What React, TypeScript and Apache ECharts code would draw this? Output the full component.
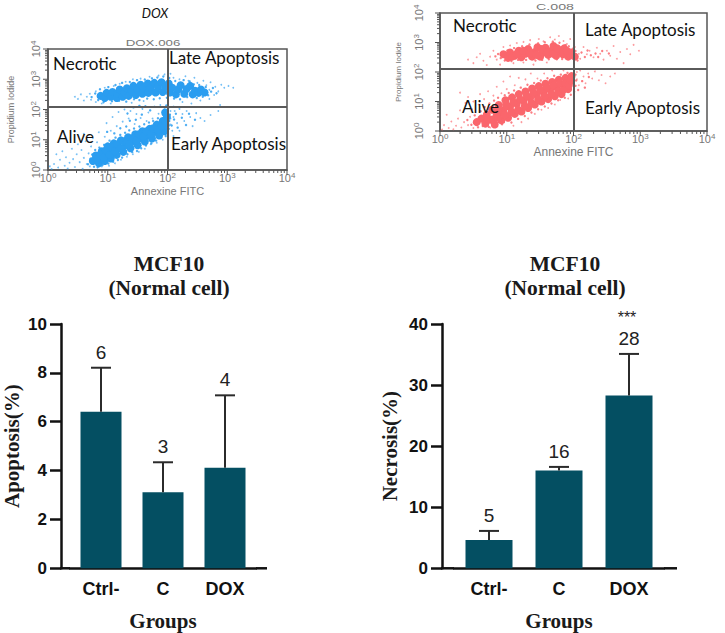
import React, { useEffect, useRef } from "react";
import * as echarts from "echarts";

const groups = ["Ctrl-", "C", "DOX"];
const apoptosisValues = [6.41, 3.11, 4.12];
const apoptosisUpper = [8.21, 4.34, 7.08];
const apoptosisLabels = ["6", "3", "4"];
const necrosisValues = [4.64, 16.0, 28.3];
const necrosisUpper = [6.12, 16.6, 35.1];
const necrosisLabels = ["5", "16", "28"];
const doxUpperCore = [[0.88,2.45],[0.95,2.38],[0.98,2.55],[1.05,2.42],[1.08,2.58],[1.15,2.38],[1.16,2.52],[1.2,2.66],[1.25,2.42],[1.28,2.56],[1.32,2.7],[1.35,2.45],[1.4,2.6],[1.43,2.78],[1.47,2.48],[1.5,2.66],[1.55,2.82],[1.58,2.52],[1.6,2.7],[1.67,2.86],[1.68,2.55],[1.72,2.72],[1.78,2.88],[1.8,2.56],[1.84,2.74],[1.9,2.9],[1.92,2.58],[1.96,2.74],[2.02,2.86],[2.04,2.56],[2.08,2.72],[2.14,2.5],[2.18,2.66],[2.22,2.8],[2.28,2.52],[2.32,2.68],[2.38,2.78],[2.42,2.5],[2.46,2.62],[2.52,2.55],[2.56,2.66],[2.62,2.56]];
const doxLowerCore = [[0.75,0.3],[0.8,0.48],[0.85,0.22],[0.88,0.38],[0.9,0.62],[0.95,0.3],[0.98,0.5],[1.0,0.78],[1.05,0.38],[1.08,0.6],[1.1,0.88],[1.15,0.5],[1.18,0.72],[1.22,0.98],[1.26,0.6],[1.3,0.82],[1.34,1.08],[1.38,0.72],[1.42,0.94],[1.46,1.18],[1.5,0.82],[1.54,1.04],[1.58,1.28],[1.62,0.94],[1.66,1.14],[1.7,1.36],[1.74,1.04],[1.78,1.26],[1.82,1.5],[1.86,1.14],[1.88,1.36],[1.92,1.62],[1.95,1.28],[1.97,1.48],[1.99,1.75],[1.96,1.9],[0.82,0.35],[0.88,0.5],[0.93,0.42],[0.97,0.65],[1.03,0.5],[1.06,0.75],[1.12,0.62],[1.16,0.85],[1.22,0.72],[1.26,0.95],[1.32,0.92],[1.36,0.85],[1.42,1.06],[1.48,0.98],[1.52,1.18],[1.6,1.12],[1.65,1.28],[1.72,1.2],[1.76,1.38],[1.84,1.32],[1.9,1.45],[1.96,1.62]];
const doxSparse = [[0.03,0.12],[0.06,0.03],[0.1,0.2],[0.14,0.52],[0.17,0.08],[0.2,0.34],[0.24,0.62],[0.28,0.14],[0.3,0.42],[0.33,0.05],[0.36,0.24],[0.4,0.7],[0.42,0.36],[0.45,0.1],[0.48,0.52],[0.5,0.85],[0.53,0.26],[0.56,0.66],[0.58,0.04],[0.6,0.4],[0.63,0.95],[0.65,0.2],[0.68,0.55],[0.7,0.12],[0.72,0.78],[0.6,1.2],[0.75,1.05],[0.82,0.92],[0.85,1.25],[0.9,0.12],[0.95,1.1],[0.98,1.55],[1.02,0.14],[1.05,1.3],[1.08,1.75],[1.12,0.22],[1.15,1.45],[1.18,1.92],[1.22,0.34],[1.25,1.6],[1.28,2.0],[1.32,0.44],[1.35,1.7],[1.38,1.95],[1.42,0.52],[1.45,1.52],[1.48,1.85],[1.52,0.6],[1.55,1.72],[1.58,2.02],[1.62,0.7],[1.65,1.62],[1.68,1.9],[1.72,0.85],[1.75,1.7],[1.78,2.1],[1.82,0.9],[1.85,1.86],[1.88,2.15],[1.92,1.0],[1.95,2.05],[0.45,2.42],[0.5,2.35],[0.55,2.5],[0.6,2.3],[0.65,2.42],[0.7,2.52],[0.72,2.32],[0.8,2.25],[0.8,2.6],[0.9,2.2],[0.95,2.72],[1.05,2.2],[1.1,2.78],[1.2,2.85],[1.3,2.92],[1.4,2.22],[1.42,3.0],[1.55,3.02],[1.6,2.28],[1.7,3.08],[1.85,3.12],[1.95,3.16],[2.05,3.18],[2.1,3.05],[2.2,3.0],[2.3,3.1],[2.35,2.95],[2.45,3.05],[2.5,2.88],[2.6,2.95],[2.65,2.8],[2.7,2.65],[2.72,2.9],[2.78,2.48],[2.8,2.75],[2.85,2.6],[2.9,2.82],[2.95,2.72],[3.02,2.78],[3.1,2.72],[2.7,2.35],[2.55,2.3],[2.4,2.2],[2.25,2.25],[2.1,2.1],[2.05,1.95],[2.05,1.7],[2.05,1.5],[2.08,1.3],[2.1,1.75],[2.12,1.95],[2.16,1.55],[2.2,2.02],[2.25,1.85],[2.28,1.62],[2.32,1.95],[2.38,1.75],[2.42,1.45],[2.48,1.88],[2.55,1.72],[2.62,1.62],[2.72,1.82],[2.85,1.95],[2.88,2.15],[2.1,1.12],[2.2,1.3]];
const doxHalo = [[0.73,2.41],[0.79,2.53],[0.84,2.31],[0.87,2.67],[0.93,2.24],[1.01,2.74],[1.07,2.27],[1.13,2.81],[1.19,2.29],[1.24,2.88],[1.31,2.26],[1.37,2.91],[1.44,2.34],[1.49,2.97],[1.53,2.31],[1.62,2.99],[1.66,2.36],[1.74,3.03],[1.77,2.34],[1.83,3.06],[1.87,2.37],[1.93,3.09],[1.99,2.39],[2.03,3.04],[2.11,2.36],[2.13,2.94],[2.21,2.34],[2.27,2.97],[2.33,2.41],[2.37,2.93],[2.44,2.83],[2.49,2.38],[2.53,2.81],[2.59,2.42],[2.64,2.74],[2.68,2.47],[2.73,2.59],[2.76,2.71],[2.82,2.54],[0.67,0.19],[0.71,0.37],[0.74,0.51],[0.77,0.11],[0.79,0.66],[0.83,0.09],[0.86,0.74],[0.91,0.16],[0.94,0.83],[1.01,0.21],[1.03,0.97],[1.09,0.27],[1.13,1.07],[1.17,0.33],[1.21,1.16],[1.24,0.41],[1.29,1.23],[1.33,0.52],[1.36,1.31],[1.41,0.59],[1.44,1.37],[1.49,0.63],[1.53,1.44],[1.56,0.72],[1.61,1.51],[1.64,0.81],[1.69,1.57],[1.73,0.88],[1.76,1.62],[1.81,0.97],[1.84,1.71],[1.89,1.06],[1.93,1.82],[1.97,1.12],[2.02,1.36],[2.03,1.62],[2.04,1.83],[2.01,2.03],[1.98,2.13],[2.07,1.47],[2.11,1.67],[2.14,1.86],[2.17,1.4],[2.24,1.73],[2.31,1.49],[2.36,1.86],[2.46,1.66],[1.31,1.44],[1.21,1.38],[1.11,1.21],[0.99,1.26],[1.37,1.63],[1.47,1.66],[1.57,1.83],[1.63,2.11],[1.71,1.97],[1.53,2.12],[1.43,2.07],[1.33,1.87]];
const cUpperCore = [[0.95,2.6],[1.02,2.48],[1.05,2.66],[1.12,2.55],[1.18,2.72],[1.22,2.5],[1.28,2.62],[1.32,2.78],[1.38,2.52],[1.42,2.68],[1.46,2.84],[1.5,2.52],[1.54,2.68],[1.58,2.82],[1.62,2.58],[1.67,2.72],[1.7,2.88],[1.74,2.55],[1.78,2.72],[1.84,2.6],[1.86,2.8],[1.92,2.52],[1.96,2.66],[2.02,2.52],[1.08,2.52],[1.15,2.62],[1.25,2.72],[1.35,2.62],[1.45,2.58],[1.52,2.78],[1.6,2.65],[1.7,2.62],[1.76,2.8],[1.85,2.68],[1.95,2.58],[1.9,2.72]];
const cLowerCore = [[0.55,0.3],[0.62,0.42],[0.68,0.25],[0.7,0.55],[0.76,0.38],[0.78,0.72],[0.82,0.22],[0.85,0.55],[0.88,0.88],[0.92,0.36],[0.95,0.7],[0.98,1.04],[1.02,0.45],[1.05,0.82],[1.08,1.14],[1.12,0.58],[1.15,0.92],[1.18,1.25],[1.22,0.66],[1.25,1.02],[1.28,1.34],[1.32,0.78],[1.35,1.12],[1.38,1.44],[1.42,0.9],[1.45,1.22],[1.48,1.52],[1.52,1.0],[1.55,1.32],[1.58,1.6],[1.62,1.08],[1.65,1.4],[1.68,1.66],[1.72,1.18],[1.75,1.48],[1.78,1.74],[1.82,1.25],[1.85,1.56],[1.88,1.8],[1.92,1.42],[1.94,1.66],[1.97,1.86],[0.72,0.4],[0.8,0.4],[0.87,0.45],[0.9,0.65],[0.97,0.55],[1.0,0.85],[1.07,0.65],[1.1,0.98],[1.17,0.72],[1.2,1.08],[1.27,0.85],[1.3,1.2],[1.37,0.95],[1.4,1.3],[1.47,1.08],[1.5,1.4],[1.57,1.18],[1.6,1.48],[1.67,1.25],[1.7,1.55],[1.77,1.35],[1.8,1.62],[1.85,1.4],[1.88,1.62],[1.93,1.55],[1.96,1.72],[0.99,0.9],[0.87,0.72]];
const cSparse = [[0.03,0.05],[0.06,0.2],[0.1,0.55],[0.13,0.1],[0.17,0.32],[0.2,0.06],[0.24,0.18],[0.27,0.42],[0.3,0.7],[0.32,0.12],[0.36,0.3],[0.38,0.95],[0.42,0.2],[0.45,0.48],[0.48,0.74],[0.5,0.1],[0.3,1.3],[0.42,1.15],[0.5,1.0],[0.58,0.9],[0.6,1.25],[0.66,1.08],[0.72,1.35],[0.75,0.12],[0.8,1.2],[0.85,1.5],[0.92,1.28],[0.95,1.68],[1.0,1.42],[1.05,1.85],[1.1,0.18],[1.12,1.55],[1.18,1.8],[1.22,0.3],[1.28,1.75],[1.32,0.42],[1.36,1.95],[1.42,0.58],[1.46,1.78],[1.52,0.72],[1.56,1.95],[1.62,0.78],[1.68,2.05],[1.72,0.9],[1.8,1.05],[1.85,2.05],[1.92,1.1],[0.42,2.42],[0.5,2.3],[0.55,2.5],[0.6,2.62],[0.65,2.38],[0.7,2.24],[0.75,2.52],[0.8,2.72],[0.85,2.42],[0.9,2.25],[0.95,2.85],[1.05,2.9],[1.1,2.3],[1.15,2.98],[1.25,2.32],[1.25,3.02],[1.35,3.08],[1.4,2.25],[1.48,3.12],[1.55,3.04],[1.6,2.32],[1.65,3.18],[1.72,3.1],[1.78,3.22],[1.85,3.05],[1.9,2.95],[1.95,3.12],[2.02,2.85],[2.08,2.62],[2.1,2.45],[2.15,2.85],[2.2,2.6],[2.24,2.72],[2.3,2.5],[2.35,2.82],[2.4,2.62],[2.45,2.42],[2.5,2.72],[2.55,2.55],[2.6,2.88],[2.65,2.45],[2.7,2.68],[2.75,2.3],[2.8,2.78],[2.85,2.6],[2.9,2.92],[2.98,2.72],[2.05,2.0],[2.05,1.75],[2.08,1.55],[2.1,2.05],[2.15,1.85],[2.18,1.62],[2.22,1.95],[2.28,1.78],[2.32,2.02],[2.38,1.72],[2.42,1.9],[2.48,1.62],[2.55,1.85],[2.62,1.95]];
const cHalo = [[0.41,0.37],[0.47,0.21],[0.52,0.53],[0.57,0.13],[0.61,0.67],[0.64,0.17],[0.67,0.81],[0.73,0.14],[0.74,0.93],[0.81,1.03],[0.87,1.13],[0.93,0.23],[0.97,1.21],[1.03,1.29],[1.07,0.29],[1.11,1.37],[1.17,0.41],[1.21,1.47],[1.27,0.51],[1.31,1.57],[1.37,0.63],[1.41,1.63],[1.47,0.74],[1.51,1.71],[1.57,0.83],[1.61,1.79],[1.67,0.93],[1.71,1.87],[1.77,1.04],[1.81,1.91],[1.87,1.13],[1.91,1.97],[1.96,1.23],[2.01,1.33],[2.03,1.53],[2.04,1.71],[2.03,1.91],[2.07,1.39],[2.13,1.69],[2.17,1.47],[2.23,1.83],[0.83,2.53],[0.87,2.61],[0.91,2.47],[0.97,2.39],[1.01,2.73],[1.07,2.37],[1.11,2.81],[1.17,2.41],[1.23,2.87],[1.29,2.41],[1.34,2.93],[1.43,2.39],[1.47,2.97],[1.53,2.41],[1.57,3.01],[1.63,2.43],[1.69,3.03],[1.75,2.43],[1.79,2.99],[1.83,2.44],[1.88,2.91],[1.93,2.87],[1.99,2.79],[2.03,2.71],[2.06,2.39],[2.12,2.66],[2.17,2.51],[2.21,2.73],[2.26,2.57],[2.33,2.63],[2.37,2.51],[2.43,2.71],[2.53,2.63]];

const axisTicksMajor = [1, 10, 100, 1000, 10000];
const axisTicksAll = [1,2,3,4,5,6,7,8,9,10,20,30,40,50,60,70,80,90,100,200,300,400,500,600,700,800,900,1000,2000,3000,4000,5000,6000,7000,8000,9000,10000];
const lift = (pts: number[][]) => pts.map(([x, y]) => [Math.pow(10, x), Math.pow(10, y)]);
const BAR = "#044f62";
const SERIF = "'Liberation Serif'";
const SANS = "'Liberation Sans'";

function flowSeries(name: string, idx: number, color: string, core: number[][][], sparse: number[][], halo: number[][], q: number, coreSize: number) {
  const mk = {
    silent: true, symbol: "none", animation: false, label: { show: false },
    lineStyle: { color: "#5a5a5a", width: 2, type: "solid" as const },
    data: [{ xAxis: 100 }, { yAxis: q }],
  };
  return [
    { type: "scatter", name: name + " events", xAxisIndex: idx, yAxisIndex: idx, symbolSize: 1.8, itemStyle: { color, opacity: 0.65 }, data: lift(sparse), silent: true },
    { type: "scatter", name: name + " halo", xAxisIndex: idx, yAxisIndex: idx, symbolSize: 2.4, itemStyle: { color, opacity: 0.85 }, data: lift(halo), silent: true },
    ...core.map((c, i) => ({ type: "scatter", name: name + " core " + i, xAxisIndex: idx, yAxisIndex: idx, symbolSize: coreSize, itemStyle: { color, opacity: 1 }, data: lift(c), silent: true })),
    { type: "scatter", name: name + " gates", xAxisIndex: idx, yAxisIndex: idx, data: [], markLine: mk },
    {
      type: "custom", name: name + " ticks", xAxisIndex: idx, yAxisIndex: idx, silent: true, clip: false,
      data: axisTicksAll.map((v) => [v]),
      renderItem: (_: any, api: any) => {
        const v = api.value(0);
        const major = axisTicksMajor.includes(v);
        const len = major ? 5 : 3;
        const px = api.coord([v, 1]);
        const py = api.coord([1, v]);
        const style = { stroke: "#555", lineWidth: 1 };
        return {
          type: "group",
          children: [
            { type: "line", shape: { x1: px[0], y1: px[1], x2: px[0], y2: px[1] + len }, style },
            { type: "line", shape: { x1: py[0], y1: py[1], x2: py[0] - len, y2: py[1] }, style },
          ],
        };
      },
    },
  ];
}

function logAxis(idx: number, kind: "x" | "y", name: string, nameGap: number, nameSize: number, margin: number) {
  return {
    type: "log", logBase: 10, min: 1, max: 10000, gridIndex: idx,
    name, nameLocation: "middle", nameGap, nameMoveOverlap: false,
    nameTextStyle: { color: "#777", fontFamily: SANS, fontSize: nameSize },
    axisLine: { show: true, onZero: false, lineStyle: { color: "#555", width: 1.5 } },
    axisTick: { show: false },
    splitLine: { show: false }, minorSplitLine: { show: false },
    axisLabel: {
      show: true, color: "#777", fontFamily: SANS, fontSize: 11, margin,
      rotate: kind === "y" ? 90 : 0,
      customValues: axisTicksMajor,
      formatter: (v: number) => `10{s|${Math.round(Math.log10(v))}}`,
      rich: { s: { fontSize: 8, color: "#777", verticalAlign: "top", padding: [0, 0, 5, 0] } },
    },
  };
}

function barAxes(idx: number, interval: number, max: number, yName: string, xGap: number, offset: number, nameGap: number) {
  return {
    x: {
      type: "category", gridIndex: idx, data: groups, name: "Groups", nameLocation: "middle", nameGap: xGap, nameMoveOverlap: false,
      nameTextStyle: { fontFamily: SERIF, fontWeight: "bold", fontSize: 21, lineHeight: 20, color: "#1a1a1a" },
      axisLine: { onZero: false, lineStyle: { color: "#111", width: 2.5 } },
      axisTick: { alignWithLabel: true, length: 9, lineStyle: { color: "#111", width: 2.5 } },
      axisLabel: { interval: 0, margin: 12, color: "#111", fontFamily: SANS, fontWeight: "bold", fontSize: 18 },
    },
    y: {
      type: "value", gridIndex: idx, min: 0, max, interval, offset, name: yName, nameLocation: "middle", nameGap, nameRotate: 90, nameMoveOverlap: false,
      nameTextStyle: { fontFamily: SERIF, fontWeight: "bold", fontSize: 21, lineHeight: 20, color: "#1a1a1a" },
      axisLine: { show: true, lineStyle: { color: "#111", width: 2.5 } },
      axisTick: { show: true, length: 11, lineStyle: { color: "#111", width: 2.5 } },
      splitLine: { show: false },
      axisLabel: { margin: 14, color: "#111", fontFamily: SANS, fontWeight: "bold", fontSize: 17 },
    },
  };
}

function barSeries(idx: number, name: string, values: number[], upper: number[], labels: string[], width: number, stars?: string) {
  return [
    { type: "bar", name, xAxisIndex: idx, yAxisIndex: idx, data: values, barWidth: width, itemStyle: { color: BAR }, silent: true },
    {
      type: "custom", name: name + " error", xAxisIndex: idx, yAxisIndex: idx, silent: true, z: 5,
      data: upper.map((u, i) => [i, values[i], u]),
      renderItem: (_: any, api: any) => {
        const base = api.coord([api.value(0), api.value(1)]);
        const top = api.coord([api.value(0), api.value(2)]);
        const line = { stroke: "#2b2b2b", lineWidth: 2 };
        const kids: any[] = [
          { type: "line", shape: { x1: base[0], y1: base[1], x2: top[0], y2: top[1] }, style: line },
          { type: "line", shape: { x1: top[0] - 10, y1: top[1], x2: top[0] + 10, y2: top[1] }, style: line },
          { type: "text", style: { text: labels[api.value(0)], x: top[0], y: top[1] - 6, align: "center", verticalAlign: "bottom", fontFamily: SANS, fontSize: 19, fill: "#222" } },
        ];
        if (stars && api.value(0) === 2) {
          kids.push({ type: "text", style: { text: stars, x: top[0] - 2, y: top[1] - 28, align: "center", verticalAlign: "bottom", fontFamily: SANS, fontSize: 16, fill: "#222" } });
        }
        return { type: "group", children: kids };
      },
    },
  ];
}

const txt = (text: string, x: number, y: number) => ({
  type: "text", x, y, z: 100, style: { text, fontFamily: "Lato", fontSize: 17, fill: "#111", verticalAlign: "middle" },
});
const small = (text: string, x: number, y: number, scaleX: number) => ({
  type: "text", x, y, scaleX, style: { text, fontFamily: SANS, fontSize: 9.5, fill: "#777", align: "center", verticalAlign: "middle" },
});
const axisExt = (x1: number, x2: number) => ({
  type: "line", shape: { x1, y1: 568.3, x2, y2: 568.3 }, style: { stroke: "#111", lineWidth: 2.5 },
});

export default function App() {
  const ref = useRef<HTMLDivElement>(null);
  useEffect(() => {
    const chart = echarts.init(ref.current!, undefined, { renderer: "svg" });
    const a = barAxes(2, 2, 10, "Apoptosis(%)", 43, 9, 39);
    const b = barAxes(3, 10, 40, "Necrosis(%)", 43, 12, 42);
    const titleStyle = { fontFamily: SERIF, fontWeight: "bold" as const, fontSize: 21.5, color: "#1a1a1a", lineHeight: 24, align: "center" as const };
    chart.setOption({
      animation: false,
      backgroundColor: "#fff",
      title: [
        { text: "DOX", left: 150, top: 1, textAlign: "center", textStyle: { fontFamily: "Lato", fontStyle: "italic", fontWeight: "normal", fontSize: 13, color: "#111" } },
        { text: "MCF10\n(Normal cell)", left: 164, top: 247, textAlign: "center", textStyle: titleStyle },
        { text: "MCF10\n(Normal cell)", left: 560, top: 247, textAlign: "center", textStyle: titleStyle },
      ],
      grid: [
        { left: 48, top: 49, width: 239, height: 121, show: true, borderColor: "#555", borderWidth: 1.5, backgroundColor: "transparent", outerBoundsMode: "none" },
        { left: 440, top: 13, width: 267, height: 118, show: true, borderColor: "#555", borderWidth: 1.5, backgroundColor: "transparent", outerBoundsMode: "none" },
        { left: 70, top: 324, width: 186, height: 244.3, outerBoundsMode: "none" },
        { left: 454, top: 324, width: 210, height: 244.3, outerBoundsMode: "none" },
      ],
      xAxis: [logAxis(0, "x", "Annexine FITC", 15, 11, 1), logAxis(1, "x", "Annexine FITC", 15, 12, 1), a.x, b.x],
      yAxis: [logAxis(0, "y", "Propidium Iodide", 33, 9, 6), logAxis(1, "y", "Propidium Iodide", 38, 8, 15), a.y, b.y],
      series: [
        ...flowSeries("DOX", 0, "#2a9df0", [doxUpperCore, doxLowerCore], doxSparse, doxHalo, 124, 8),
        ...flowSeries("C", 1, "#fa666c", [cUpperCore, cLowerCore], cSparse, cHalo, 126, 8),
        ...barSeries(2, "Apoptosis", apoptosisValues, apoptosisUpper, apoptosisLabels, 41),
        ...barSeries(3, "Necrosis", necrosisValues, necrosisUpper, necrosisLabels, 47, "***"),
      ],
      graphic: [
        small("DOX.006", 153, 43, 1.4), small("C.008", 555, 7, 1.5),
        txt("Necrotic", 53, 63), txt("Late Apoptosis", 169, 57), txt("Alive", 57, 136), txt("Early Apoptosis", 171, 143),
        txt("Necrotic", 453, 25), txt("Late Apoptosis", 585, 29), txt("Alive", 462, 106), txt("Early Apoptosis", 585, 107),
        axisExt(60, 70), axisExt(256, 267), axisExt(441, 454), axisExt(664, 677),
      ],
    });
    return () => chart.dispose();
  }, []);
  return <div ref={ref} style={{ position: "absolute", left: 0, top: 0, width: 725, height: 633 }} />;
}
